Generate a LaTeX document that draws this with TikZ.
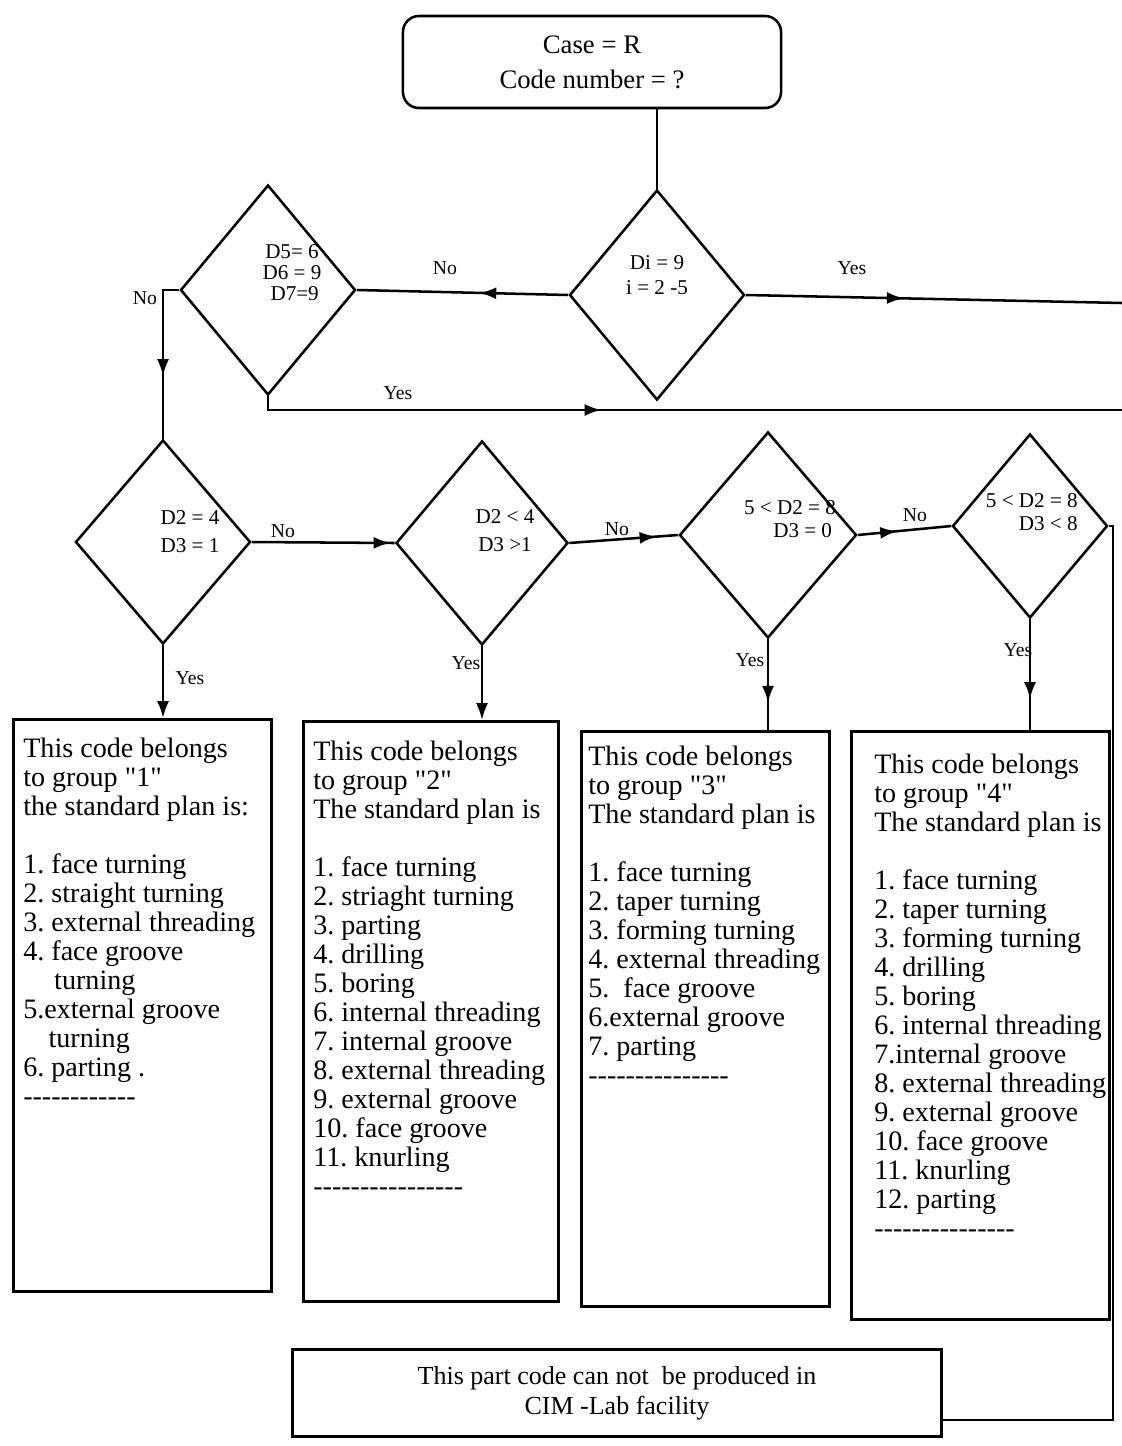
\documentclass[tikz,border=0pt]{standalone}
\usepackage{fontspec}
\setmainfont{Liberation Serif}[Ligatures=TeXOff]
\usetikzlibrary{shapes.geometric,arrows.meta,decorations.markings,positioning}

\newcommand{\dashrow}[1]{\foreach \k in {1,...,#1}{-}}
\frenchspacing

\tikzset{
  ln/.style={line width=1.8pt},
  decide/.style={diamond, draw, ln, minimum width=4.375cm, minimum height=5.2cm, inner sep=0pt},
  cond/.style={align=center, inner sep=0pt, font=\fontsize{15}{#1}\selectfont},
  cond/.default=16,
  lbl/.style={inner sep=0pt, font=\fontsize{14}{16}\selectfont},
  plan/.style={draw, ln, anchor=north west, inner xsep=0.25cm, inner ysep=0.45cm,
    font=\fontsize{20}{20.6}\selectfont},
  arw/.style={postaction={decorate}, decoration={markings,
    mark=at position #1 with {\arrow{Latex[length=0.42cm,width=0.3cm]}}}},
  endarrow/.style={-{Latex[length=0.42cm,width=0.3cm]}}
}

\begin{document}
\begin{tikzpicture}[x=0.025cm,y=-0.025cm]
\useasboundingbox (0,0) rectangle (1122,1446);

% start and first two tests
\node[draw, ln, rounded corners=0.4cm, minimum width=9.45cm, minimum height=2.3cm,
  align=center, font=\fontsize{19}{25}\selectfont] (start) at (592,62) {Case = R\\Code number = ?};

\node[decide, minimum height=5.25cm] (di) at (657,295) {};
\node[decide, minimum height=5.25cm] (d5) at (268,290) {};
\node[cond=18] (tdi) at (657,275) {Di = 9\\i = 2 -5};
\node[cond=15] (td5) at (292,273) {D5= 6\\D6 = 9\\\ D7=9};

% row of group tests
\node[decide, minimum height=5.1cm] (dA) at (163,542) {};
\node[decide, minimum width=4.3cm, minimum height=5.1cm] (dB) at (482,543) {};
\node[decide, minimum width=4.425cm, minimum height=5.15cm] (dC) at (768,535) {};
\node[decide, minimum width=3.875cm, minimum height=4.6cm] (dD) at (1030,526) {};
\node[cond=20] (tA) at (190,532) {D2 = 4\\D3 = 1};
\node[cond=20] (tB) at (505,531) {D2 < 4\\D3 >1};
\node[cond=16] (tC) at (790,519) {5 < D2 = 8\\\hspace*{1.2em}D3 = 0};
\node[cond=16, align=right, anchor=east] (tD) at (1078,512) {5 < D2 = 8\\D3 < 8};

% standard plans
\node[plan] (g1) at (12,718) {\parbox[t][13.4cm][t]{5.95cm}{\begin{tabular}[t]{@{}l@{}}
This code belongs\\
to group "1"\\
the standard plan is:\\
\\
1. face turning\\
2. straight turning\\
3. external threading\\
4. face groove\\
\hspace*{1.1em}turning\\
5.external groove\\
\hspace*{0.9em}turning\\
6. parting .\\
\dashrow{12}
\end{tabular}}};

\node[plan, inner ysep=0.475cm] (g2) at (302,720) {\parbox[t][13.55cm][t]{5.875cm}{\begin{tabular}[t]{@{}l@{}}
This code belongs\\
to group "2"\\
The standard plan is\\
\\
1. face turning\\
2. striaght turning\\
3. parting\\
4. drilling\\
5. boring\\
6. internal threading\\
7. internal groove\\
8. external threading\\
9. external groove\\
10. face groove\\
11. knurling\\
\dashrow{16}
\end{tabular}}};

\node[plan, inner xsep=0.175cm, inner ysep=0.35cm] (g3) at (580,730) {\parbox[t][13.675cm][t]{5.85cm}{\begin{tabular}[t]{@{}l@{}}
This code belongs\\
to group "3"\\
The standard plan is\\
\\
1. face turning\\
2. taper turning\\
3. forming turning\\
4. external threading\\
5.\ \ face groove\\
6.external groove\\
7. parting\\
\dashrow{15}
\end{tabular}}};

\node[plan, inner xsep=0.575cm, inner ysep=0.55cm] (g4) at (850,730) {\parbox[t][13.6cm][t]{5.3cm}{\begin{tabular}[t]{@{}l@{}}
This code belongs\\
to group "4"\\
The standard plan is\\
\\
1. face turning\\
2. taper turning\\
3. forming turning\\
4. drilling\\
5. boring\\
6. internal threading\\
7.internal groove\\
8. external threading\\
9. external groove\\
10. face groove\\
11. knurling\\
12. parting\\
\dashrow{15}
\end{tabular}}};

\node[draw, ln, minimum width=16.225cm, minimum height=2.175cm, align=center,
  font=\fontsize{18.5}{21.5}\selectfont] (fail) at (617,1393) {This part code can not\ \ be produced in\\CIM -Lab facility};

% free ends and corner
\coordinate (yes1) at (1122,303);
\coordinate (yes2) at (1122,410);
\coordinate (turn) at (1113,1420);

% connectors
\draw[ln] (start.south -| di.north) -- (di.north);
\draw[ln, arw=0.42] (di.east) -- (yes1);
\draw[ln, arw=0.42] (di.west) -- (d5.east);
\draw[ln, arw=0.62] (d5.west) -| (dA.north);
\draw[ln, arw=0.40] (d5.south) |- (yes2);
\draw[ln, arw=0.97] (dA.east) -- (dB.west);
\draw[ln, arw=0.8] (dB.east) -- (dC.west);
\draw[ln, arw=0.42] (dC.east) -- (dD.west);
\draw[ln] (dD.east) -| (turn) -- (turn -| fail.east);
\draw[ln, endarrow] (dA.south) -- (dA.south |- g1.north);
\draw[ln, endarrow] (dB.south) -- (dB.south |- g2.north);
\draw[ln, arw=0.7] (dC.south) -- (dC.south |- g3.north);
\draw[ln, arw=0.72] (dD.south) -- (dD.south |- g4.north);

% branch labels
\node[lbl] (n1) at (445,268) {No};
\node[lbl] (y1) at (852,268) {Yes};
\node[lbl] (n2) at (145,298) {No};
\node[lbl] (y2) at (398,393) {Yes};
\node[lbl] (n3) at (283,531) {No};
\node[lbl] (n4) at (617,529) {No};
\node[lbl] (n5) at (915,515) {No};
\node[lbl] (y3) at (190,678) {Yes};
\node[lbl] (y4) at (466,663) {Yes};
\node[lbl] (y5) at (750,660) {Yes};
\node[lbl] (y6) at (1018,650) {Yes};

\end{tikzpicture}
\end{document}
